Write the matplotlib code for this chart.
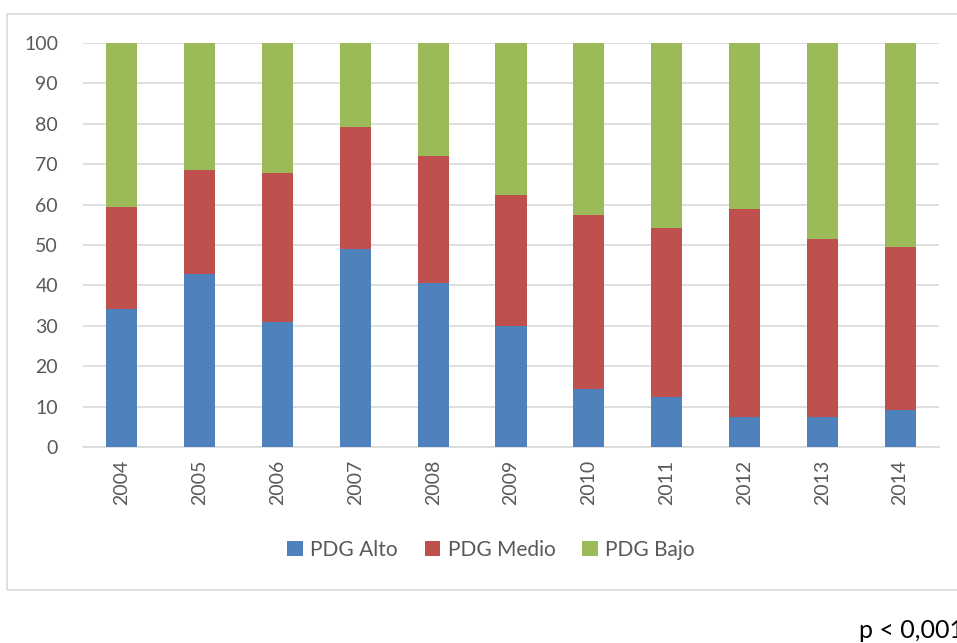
import matplotlib
matplotlib.use("Agg")
import matplotlib.pyplot as plt
from matplotlib.patches import Rectangle
import numpy as np

plt.rcParams['font.family'] = ['Lato', 'DejaVu Sans']

years = ['2004', '2005', '2006', '2007', '2008', '2009', '2010', '2011', '2012', '2013', '2014']
alto = [34.1, 42.9, 31.0, 48.9, 40.6, 29.9, 14.3, 12.5, 7.4, 7.4, 9.1]
medio = [25.3, 25.7, 36.8, 30.2, 31.5, 32.5, 43.2, 41.7, 51.4, 44.0, 40.5]
bajo = [40.6, 31.4, 32.2, 20.9, 27.9, 37.6, 42.5, 45.8, 41.2, 48.6, 50.4]
series_names = ['PDG Alto', 'PDG Medio', 'PDG Bajo']
colors = ['#4F81BD', '#C0504D', '#9BBB59']
grey = '#595959'

W, H = 957, 643
fig = plt.figure(figsize=(W / 100, H / 100), dpi=100)

# outer chart frame
fig.patches.append(Rectangle((7 / W, 1 - 590 / H), 1.2, (590 - 14) / H,
                             transform=fig.transFigure, fill=False,
                             edgecolor='#D9D9D9', linewidth=1.2))

ax = fig.add_axes([83 / W, 1 - 447 / H, (939 - 83) / W, (447 - 43) / H])
x = np.arange(len(years))
bottom = np.zeros(len(years))
for vals, name, c in zip([alto, medio, bajo], series_names, colors):
    ax.bar(x, vals, 0.4, bottom=bottom, color=c, label=name, zorder=3)
    bottom += np.array(vals)

ax.set_xlim(-0.5, len(years) - 0.5)
ax.set_ylim(0, 100)
ax.set_yticks(range(0, 101, 10))
ax.set_xticks(x)
ax.set_xticklabels(years, rotation=90)
ax.yaxis.grid(True, color='#D9D9D9', linewidth=1.2, zorder=0)
for s in ['top', 'right', 'left']:
    ax.spines[s].set_visible(False)
ax.spines['bottom'].set_color('#D9D9D9')
ax.spines['bottom'].set_linewidth(1.2)
ax.tick_params(axis='both', length=0, labelsize=14, colors=grey, pad=9)
ax.tick_params(axis='y', pad=18)

leg = fig.legend(loc='center', bbox_to_anchor=(491 / W, 1 - 550 / H), ncol=3,
                 frameon=False, fontsize=15, handlelength=0.75, handleheight=0.75,
                 columnspacing=1.3, handletextpad=0.35)
for t in leg.get_texts():
    t.set_color(grey)

fig.text(859 / W, 1 - 631 / H, 'p < 0,001', fontsize=18, color='black', va='center')

fig.savefig('out.png', dpi=100)
